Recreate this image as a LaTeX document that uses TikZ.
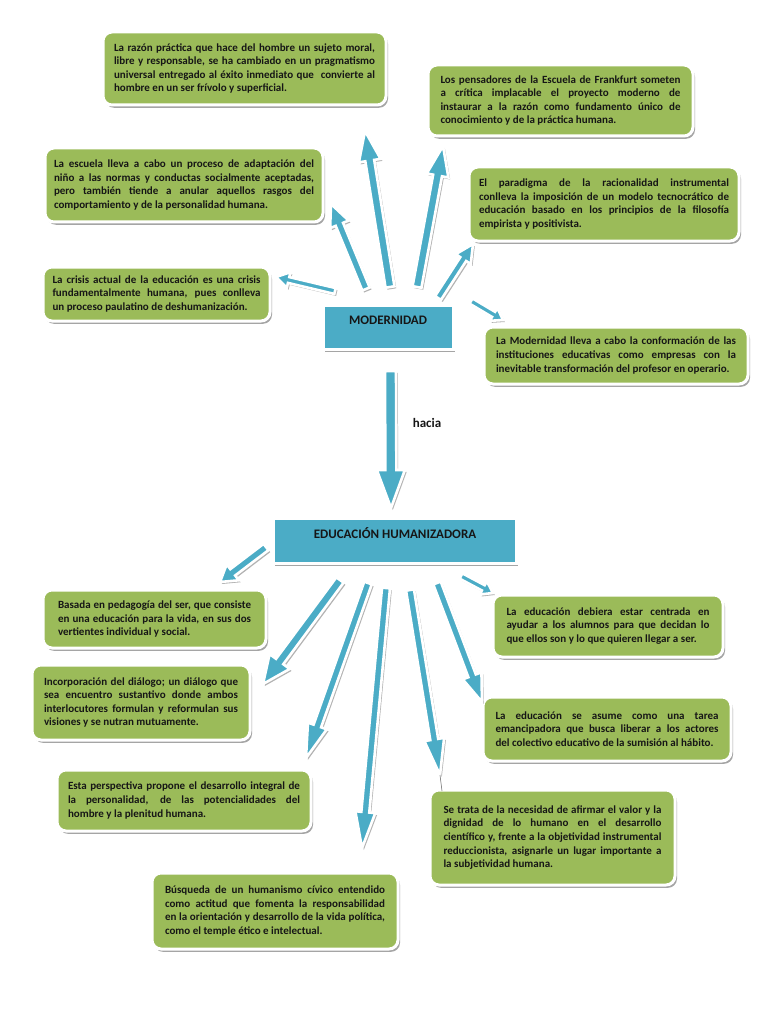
\documentclass[tikz,border=0pt]{standalone}
\usepackage{fontspec}
\setmainfont{Carlito}
\usetikzlibrary{calc,shadows}
\definecolor{boxgreen}{HTML}{9BBB59}
\definecolor{boxblue}{HTML}{4BACC6}
\definecolor{txtdark}{HTML}{161616}
\newcommand{\myBody}{\fontsize{11}{13.6}\selectfont\bfseries}
\newcommand{\myTitle}{\fontsize{13}{15}\selectfont\bfseries}
\newcommand{\blockarr}[5]{%
  \coordinate (hb) at ($(#2)!#5!(#1)$);
  \filldraw[arrstyle] ($(#1)!#3!90:(#2)$) -- ($(hb)!#3!90:(#2)$) -- ($(hb)!#4!90:(#2)$) -- (#2)
    -- ($(hb)!#4!-90:(#2)$) -- ($(hb)!#3!-90:(#2)$) -- ($(#1)!#3!-90:(#2)$) -- cycle;
}
\tikzset{
  gbox/.style={rectangle, rounded corners=9pt, fill=boxgreen, draw=white, line width=3pt,
    drop shadow={shadow xshift=2pt, shadow yshift=-2.8pt, fill=black!50, opacity=0.7},
    text=txtdark, align=justify, font=\myBody, inner ysep=3pt},
  bbox/.style={rectangle, fill=boxblue, draw=white, line width=3pt,
    drop shadow={shadow xshift=2pt, shadow yshift=-2.8pt, fill=black!50, opacity=0.7}},
  ttl/.style={font=\myTitle, text=txtdark, inner sep=0pt},
  arrstyle/.style={fill=boxblue, draw=white, line width=2.6pt, line join=miter,
    drop shadow={shadow xshift=1.8pt, shadow yshift=-2pt, fill=black!50, opacity=0.6}}
}
\begin{document}
\begin{tikzpicture}[x=1pt,y=-1pt]
\fill[white] (0,0) rectangle (768,1024);
\useasboundingbox (0,0) rectangle (768,1024);

% ---------- top boxes ----------
\node[gbox, text width=261pt, inner xsep=11pt, minimum height=73pt] (bA) at (244.5,68.5)
 {La razón práctica que hace del hombre un sujeto moral,\linebreak libre y responsable, se ha cambiado en un pragmatismo\linebreak universal entregado al éxito inmediato que\ \ convierte al\linebreak hombre en un ser frívolo y superficial.};
\node[gbox, text width=260pt, inner xsep=9pt, minimum height=74pt] (bB) at (184,185)
 {La escuela lleva a cabo un proceso de adaptación del\linebreak niño a las normas y conductas socialmente aceptadas,\linebreak pero también tiende a anular aquellos rasgos del\linebreak comportamiento y de la personalidad humana.};
\node[gbox, text width=208pt, inner xsep=9.5pt, minimum height=54pt] (bC) at (156.5,294)
 {La crisis actual de la educación es una crisis\linebreak fundamentalmente humana, pues conlleva\linebreak un proceso paulatino de deshumanización.};
\node[gbox, text width=240pt, inner xsep=12.5pt, minimum height=71pt] (bD) at (560.5,100.5)
 {Los pensadores de la Escuela de Frankfurt someten\linebreak a crítica implacable el proyecto moderno de\linebreak instaurar a la razón como fundamento único de\linebreak conocimiento y de la práctica humana.};
\node[gbox, text width=250pt, inner xsep=10pt, minimum height=74pt] (bE) at (604,204)
 {El paradigma de la racionalidad instrumental\linebreak conlleva la imposición de un modelo tecnocrático de\linebreak educación basado en los principios de la filosofía\linebreak empirista y positivista.};
\node[gbox, text width=240pt, inner xsep=12pt, minimum height=57pt] (bF) at (616,355.5)
 {La Modernidad lleva a cabo la conformación de las\linebreak instituciones educativas como empresas con la\linebreak inevitable transformación del profesor en operario.};

% ---------- central boxes ----------
\node[bbox, minimum width=130pt, minimum height=44pt] (mod) at (388,327) {};
\node[ttl] (modt) at (388,320) {MODERNIDAD};
\node[bbox, minimum width=243pt, minimum height=45pt] (edu) at (394.5,540.5) {};
\node[ttl] (edut) at (395,533) {EDUCACIÓN HUMANIZADORA};
\node[ttl] (hacia) at (427,423) {hacia};

% ---------- bottom boxes ----------
\node[gbox, text width=193pt, inner xsep=15pt, minimum height=58pt] (bG) at (154.5,619)
 {Basada en pedagogía del ser, que consiste\linebreak en una educación para la vida, en sus dos\linebreak vertientes individual y social.};
\node[gbox, text width=194pt, inner xsep=12pt, minimum height=75pt] (bH) at (141,702.5)
 {Incorporación del diálogo; un diálogo que\linebreak sea encuentro sustantivo donde ambos\linebreak interlocutores formulan y reformulan sus\linebreak visiones y se nutran mutuamente.};
\node[gbox, text width=232pt, inner xsep=11pt, minimum height=61pt] (bI) at (184,800.5)
 {Esta perspectiva propone el desarrollo integral de\linebreak la personalidad, de las potencialidades del\linebreak hombre y la plenitud humana.};
\node[gbox, text width=220pt, inner xsep=13pt, minimum height=76pt] (bJ) at (275,911)
 {Búsqueda de un humanismo cívico entendido\linebreak como actitud que fomenta la responsabilidad\linebreak en la orientación y desarrollo de la vida política,\linebreak como el temple ético e intelectual.};
\node[gbox, text width=203pt, inner xsep=13.5pt, minimum height=62pt] (bK) at (608,626)
 {La educación debiera estar centrada en\linebreak ayudar a los alumnos para que decidan lo\linebreak que ellos son y lo que quieren llegar a ser.};
\node[gbox, text width=223pt, inner xsep=12.5pt, minimum height=64pt] (bL) at (607,729)
 {La educación se asume como una tarea\linebreak emancipadora que busca liberar a los actores\linebreak del colectivo educativo de la sumisión al hábito.};
\node[gbox, text width=218pt, inner xsep=13.5pt, minimum height=95pt] (bM) at (552.5,837.5)
 {Se trata de la necesidad de afirmar el valor y la\linebreak dignidad de lo humano en el desarrollo\linebreak científico y, frente a la objetividad instrumental\linebreak reduccionista, asignarle un lugar importante a\linebreak la subjetividad humana.};

% ---------- arrow end points ----------
\coordinate (t1s) at (335,291); \coordinate (t1e) at (276,277);
\coordinate (t2s) at (366,289); \coordinate (t2e) at (331,204);
\coordinate (t3s) at (390,287); \coordinate (t3e) at (365,131);
\coordinate (t4s) at (417,287); \coordinate (t4e) at (443,146);
\coordinate (t5s) at (438,298); \coordinate (t5e) at (473,244);
\coordinate (t6s) at (471,301); \coordinate (t6e) at (503,320);
\coordinate (hs) at (390.5,371); \coordinate (he) at (391,508);
\coordinate (b1s) at (266,547); \coordinate (b1e) at (220,582);
\coordinate (b2s) at (340,580); \coordinate (b2e) at (263,684);
\coordinate (b3s) at (368,583); \coordinate (b3e) at (306,758);
\coordinate (b4s) at (386,588); \coordinate (b4e) at (362,848);
\coordinate (b5s) at (410,590); \coordinate (b5e) at (440,775);
\coordinate (b5x) at (442,791);
\coordinate (b6s) at (437,583); \coordinate (b6e) at (482,702);
\coordinate (b7s) at (461,576); \coordinate (b7e) at (493,593);

% ---------- arrows ----------
\blockarr{t1s}{t1e}{3pt}{8pt}{13pt}
\blockarr{t2s}{t2e}{4pt}{10pt}{22pt}
\blockarr{t3s}{t3e}{4.5pt}{11pt}{30pt}
\blockarr{t4s}{t4e}{4.5pt}{11pt}{30pt}
\blockarr{t5s}{t5e}{3.5pt}{9pt}{18pt}
\blockarr{t6s}{t6e}{3pt}{7.5pt}{11pt}
\blockarr{hs}{he}{5.5pt}{14pt}{38pt}
\blockarr{b1s}{b1e}{4pt}{10pt}{16pt}
\blockarr{b2s}{b2e}{4.5pt}{12.5pt}{28pt}
\blockarr{b3s}{b3e}{4pt}{10pt}{34pt}
\blockarr{b4s}{b4e}{4pt}{10pt}{36pt}
\blockarr{b5s}{b5e}{4pt}{10pt}{36pt}
\draw[black!55, line width=0.6pt] (b5e) -- (b5x);
\blockarr{b6s}{b6e}{4pt}{10pt}{28pt}
\blockarr{b7s}{b7e}{3pt}{7.5pt}{11pt}
\end{tikzpicture}
\end{document}
